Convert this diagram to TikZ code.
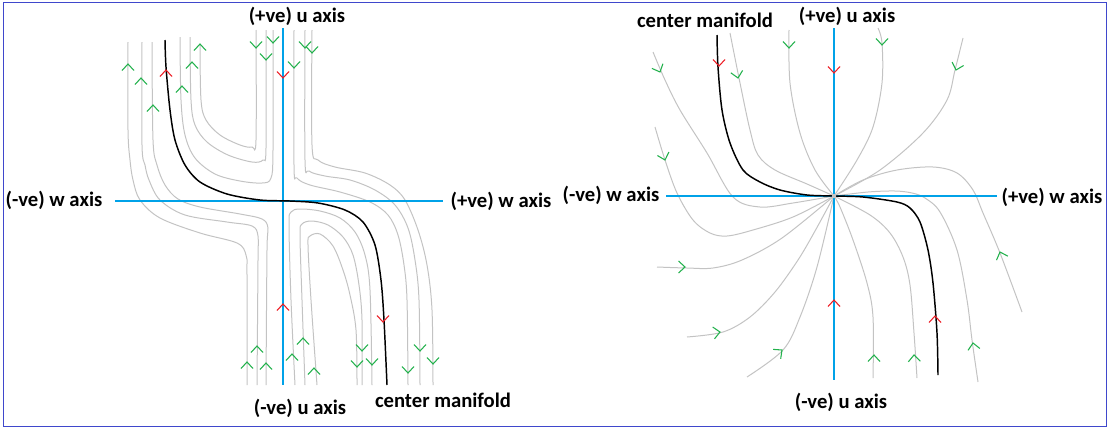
\documentclass[tikz,border=0pt]{standalone}
\usepackage{fontspec}
\setmainfont{Carlito}
\definecolor{axisblue}{RGB}{0,162,232}
\definecolor{glinec}{RGB}{195,195,195}
\definecolor{arrgreen}{RGB}{34,177,76}
\definecolor{arrred}{RGB}{237,28,36}
\definecolor{framec}{RGB}{63,72,204}
\newcommand{\chev}[5]{\draw[#1,shift={(#2,#3)},rotate={atan2(-(#5),#4)}] (-6.5,6) -- (0,0) -- (-6.5,-6);}
\begin{document}
\begin{tikzpicture}[x=0.75pt,y=-0.75pt,
  gline/.style={draw=glinec,line width=0.75pt},
  axisline/.style={draw=axisblue,line width=0.8pt},
  cman/.style={draw=black,line width=1.1pt},
  ga/.style={draw=arrgreen,line width=0.8pt},
  ra/.style={draw=arrred,line width=0.8pt},
  lbl/.style={font=\fontsize{15.5}{18}\selectfont\bfseries,inner sep=0pt}]
\useasboundingbox (0,0) rectangle (1109,429);
\draw[framec,line width=0.8pt] (3.5,2.5) rectangle (1106.5,426.5);

% ---------------- LEFT DIAGRAM ----------------
% S curves from top-left
\draw[gline] plot[smooth,tension=0.55] coordinates {(128,42) (128,130) (130,160) (133,180) (140,200) (160,218) (200,233) (237,243) (246,255) (247,275) (247,385)};
\draw[gline] plot[smooth,tension=0.55] coordinates {(142,42) (142,145) (145,165) (149,180) (160,200) (185,215) (227,222) (252,226) (258,236) (258,260) (257,385)};
\draw[gline] plot[smooth,tension=0.55] coordinates {(152,42) (153,140) (157,165) (165,185) (178,199) (200,207) (240,214) (262,219) (268,228) (267,250) (266,385)};
% top U curves
\draw[gline] plot[smooth,tension=0.55] coordinates {(180,37) (181,100) (185,135) (195,158) (215,174) (240,181) (262,183) (271,178) (273,150) (273,30)};
\draw[gline] plot[smooth,tension=0.55] coordinates {(190,37) (191,100) (195,125) (207,142) (228,155) (252,162) (263,160) (266,148) (266,30)};
\draw[gline] plot[smooth,tension=0.55] coordinates {(200,45) (201,100) (206,120) (220,135) (240,145) (252,147) (256,140) (256,30)};
% S curves from top-right
\draw[gline] plot[smooth,tension=0.55] coordinates {(294,30) (294,165) (297,178) (310,185) (340,192) (370,202) (388,215) (398,235) (404,265) (407,300) (408,385)};
\draw[gline] plot[smooth,tension=0.55] coordinates {(305,30) (305,160) (309,171) (325,176) (350,180) (375,190) (395,205) (408,228) (415,260) (419,300) (420,385)};
\draw[gline] plot[smooth,tension=0.55] coordinates {(312,30) (312,145) (318,160) (335,167) (365,173) (390,185) (405,200) (418,230) (427,265) (432,310) (433,385)};
% bottom inverted U curves
\draw[gline] plot[smooth,tension=0.55] coordinates {(295,385) (291,300) (289,225) (291,212) (300,209) (320,211) (340,218) (355,232) (365,255) (370,290) (372,385)};
\draw[gline] plot[smooth,tension=0.55] coordinates {(305,385) (302,300) (300,235) (302,224) (312,221) (328,225) (343,237) (353,255) (359,285) (362,320) (362,385)};
\draw[gline] plot[smooth,tension=0.55] coordinates {(317,385) (311,300) (308,245) (310,236) (320,234) (333,246) (343,270) (350,295) (356,330) (357,385)};
% axes
\draw[axisline] (115,201) -- (443,201);
\draw[axisline] (283,28) -- (283,385);
% centre manifold
\draw[cman] plot[smooth,tension=0.5] coordinates {(165,40) (166,67) (170,110) (175,140) (185,165) (200,182) (227,194) (260,200) (290,201) (318,203) (345,210) (363,222) (375,245) (381,280) (384,320) (387,385)};
% red arrows
\chev{ra}{166}{70}{0}{-1}
\chev{ra}{283}{78}{0}{1}
\chev{ra}{283}{304}{0}{-1}
\chev{ra}{383}{322}{0}{1}
% green arrows (top)
\chev{ga}{128}{64}{0}{-1}
\chev{ga}{141}{78}{0}{-1}
\chev{ga}{153}{105}{0}{-1}
\chev{ga}{182}{86}{0}{-1}
\chev{ga}{192}{62}{0}{-1}
\chev{ga}{200}{44}{0}{-1}
\chev{ga}{256}{48}{0}{1}
\chev{ga}{273}{43}{0}{1}
\chev{ga}{266}{60}{0}{1}
\chev{ga}{294}{68}{0}{1}
\chev{ga}{305}{48}{0}{1}
\chev{ga}{312}{53}{0}{1}
% green arrows (bottom)
\chev{ga}{247}{362}{0}{-1}
\chev{ga}{257}{346}{0}{-1}
\chev{ga}{266}{363}{0}{-1}
\chev{ga}{292}{354}{0}{-1}
\chev{ga}{303}{338}{0}{-1}
\chev{ga}{314}{368}{0}{-1}
\chev{ga}{357}{367}{0}{1}
\chev{ga}{362}{351}{0}{1}
\chev{ga}{372}{365}{0}{1}
\chev{ga}{408}{373}{0}{1}
\chev{ga}{420}{351}{0}{1}
\chev{ga}{433}{364}{0}{1}
% labels
\node[lbl] (lup) at (297,16) {(+ve) u axis};
\node[lbl] (ldown) at (300,408) {(-ve) u axis};
\node[lbl] (lleft) at (54,200) {(-ve) w axis};
\node[lbl] (lright) at (501,201) {(+ve) w axis};
\node[lbl] (lcm) at (443,400) {center manifold};

% ---------------- RIGHT DIAGRAM ----------------
\draw[gline] plot[smooth,tension=0.55] coordinates {(653,52) (665,80) (680,110) (707,153) (733,197) (760,207) (793,203) (834,196)};
\draw[gline] plot[smooth,tension=0.55] coordinates {(655,127) (665,160) (677,193) (693,220) (710,233) (727,236) (753,230) (793,217) (834,196)};
\draw[gline] plot[smooth,tension=0.55] coordinates {(657,267) (687,268) (713,268) (742,260) (782,238) (834,196)};
\draw[gline] plot[smooth,tension=0.55] coordinates {(687,337) (723,332) (750,317) (775,292) (798,260) (815,231) (834,196)};
\draw[gline] plot[smooth,tension=0.55] coordinates {(747,377) (783,350) (800,317) (817,267) (834,196)};
\draw[gline] plot[smooth,tension=0.55] coordinates {(873,378) (873,317) (867,283) (853,240) (840,207) (834,196)};
\draw[gline] plot[smooth,tension=0.55] coordinates {(917,378) (914,333) (910,285) (903,257) (890,233) (870,215) (834,196)};
\draw[gline] plot[smooth,tension=0.55] coordinates {(978,382) (972,340) (967,300) (957,250) (940,212) (925,198) (912,193) (895,191) (868,192) (834,196)};
\draw[gline] plot[smooth,tension=0.55] coordinates {(1022,312) (1000,253) (983,213) (973,190) (957,173) (933,167) (897,170) (863,180) (834,196)};
\draw[gline] plot[smooth,tension=0.55] coordinates {(963,38) (955,70) (947,100) (923,133) (880,170) (834,196)};
\draw[gline] plot[smooth,tension=0.55] coordinates {(878,28) (882,43) (882,83) (873,127) (857,160) (834,196)};
\draw[gline] plot[smooth,tension=0.55] coordinates {(789,30) (790,83) (800,133) (815,170) (834,196)};
\draw[gline] plot[smooth,tension=0.55] coordinates {(730,33) (740,83) (750,130) (758,155) (775,170) (807,184) (834,196)};
% axes
\draw[axisline] (666,196) -- (997,196);
\draw[axisline] (834,28) -- (834,380);
% centre manifold
\draw[cman] plot[smooth,tension=0.5] coordinates {(717,35) (718,67) (722,110) (730,143) (743,170) (760,182) (780,190) (807,195) (834,196) (863,197) (897,202) (910,208) (920,222) (928,250) (933,283) (937,333) (938,375)};
\fill[glinec] (834,196) circle (2.2);
% red arrows
\chev{ra}{719}{66}{0}{1}
\chev{ra}{834}{73}{0}{1}
\chev{ra}{834}{300}{0}{-1}
\chev{ra}{935}{316}{0}{-1}
% green arrows
\chev{ga}{660}{72}{0.43}{1}
\chev{ga}{665}{160}{0.3}{1}
\chev{ga}{685}{267}{1}{0}
\chev{ga}{720}{332}{1}{-0.15}
\chev{ga}{782}{350}{1}{-0.8}
\chev{ga}{874}{355}{0}{-1}
\chev{ga}{914}{355}{-0.05}{-1}
\chev{ga}{973}{343}{-0.15}{-1}
\chev{ga}{1000}{252}{-0.35}{-1}
\chev{ga}{956}{70}{-0.3}{1}
\chev{ga}{882}{45}{0}{1}
\chev{ga}{789}{48}{0}{1}
\chev{ga}{738}{78}{0.2}{1}
% labels
\node[lbl] (rcm) at (705,20) {center manifold};
\node[lbl] (rup) at (847,16) {(+ve) u axis};
\node[lbl] (rleft) at (611,195) {(-ve) w axis};
\node[lbl] (rright) at (1052,197) {(+ve) w axis};
\node[lbl] (rdown) at (841,402) {(-ve) u axis};
\end{tikzpicture}
\end{document}
